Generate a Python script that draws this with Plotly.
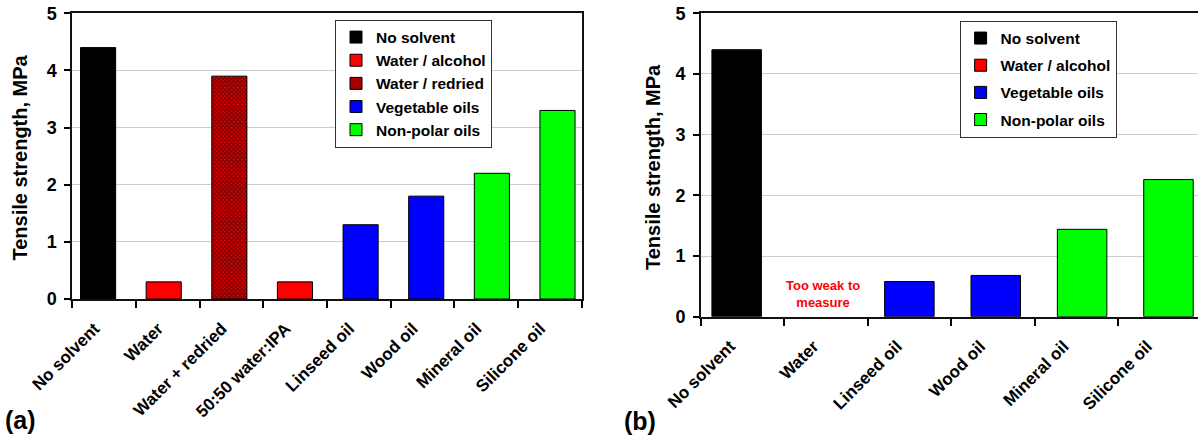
import plotly.graph_objects as go

# ---- data -------------------------------------------------------------
cats_a = ["No solvent", "Water", "Water + redried", "50:50 water:IPA",
          "Linseed oil", "Wood oil", "Mineral oil", "Silicone oil"]
vals_a = [4.4, 0.3, 3.9, 0.3, 1.3, 1.8, 2.2, 3.3]
group_a = ["No solvent", "Water / alcohol", "Water / redried", "Water / alcohol",
           "Vegetable oils", "Vegetable oils", "Non-polar oils", "Non-polar oils"]

cats_b = ["No solvent", "Water", "Linseed oil", "Wood oil", "Mineral oil", "Silicone oil"]
vals_b = [4.4, None, 0.58, 0.68, 1.44, 2.26]
group_b = ["No solvent", "Water / alcohol", "Vegetable oils", "Vegetable oils",
           "Non-polar oils", "Non-polar oils"]

legend_a = ["No solvent", "Water / alcohol", "Water / redried", "Vegetable oils", "Non-polar oils"]
legend_b = ["No solvent", "Water / alcohol", "Vegetable oils", "Non-polar oils"]

y_ticks = [0, 1, 2, 3, 4, 5]

# ---- styling ----------------------------------------------------------
W, H = 1198, 439
FONT = "Liberation Sans, Arial, sans-serif"
group_style = {
    "No solvent": dict(color="#000000"),
    "Water / alcohol": dict(color="#ff0000"),
    "Water / redried": dict(color="#ff0000",
                            pattern=dict(shape="x", fgcolor="#000000", bgcolor="#ff0000",
                                         size=3, solidity=0.7)),
    "Vegetable oils": dict(color="#0000ff"),
    "Non-polar oils": dict(color="#00ff00"),
}
LABEL_SHIFT = -0.15  # rotated labels sit slightly left of the category centre


def fx(p):
    return p / W


def fy(p):
    return 1 - p / H


fig = go.Figure()


def add_panel(cats, vals, groups, order, xaxis, yaxis, legend, width):
    for g in order:
        idx = [i for i, gg in enumerate(groups) if gg == g]
        fig.add_trace(go.Bar(
            x=idx, y=[vals[i] for i in idx], name=g,
            xaxis=xaxis, yaxis=yaxis, legend=legend, legendgroup=legend + g,
            width=width,
            marker=dict(**group_style[g], line=dict(color="#000000", width=1)),
            hoverinfo="skip",
        ))


add_panel(cats_a, vals_a, group_a, legend_a, "x", "y", "legend", 0.535)
add_panel(cats_b, vals_b, group_b, legend_b, "x3", "y2", "legend2", 0.573)

tickfont = dict(family=FONT, size=18, color="#000000", weight="bold")
labfont = dict(family=FONT, size=17, color="#000000", weight="bold")
legfont = dict(family=FONT, size=15.5, color="#000000", weight="bold")

yaxis_common = dict(range=[0, 5], tickvals=y_ticks, ticks="outside", ticklen=6,
                    tickwidth=1.5, tickcolor="#000000", tickfont=tickfont,
                    showgrid=True, gridcolor="#cccccc", gridwidth=1, zeroline=False,
                    showline=True, linecolor="#111111", linewidth=2,
                    ticklabelstandoff=4, automargin=False, fixedrange=True)


def label_axis(cats, rng, domain, overlay, anchor):
    n = len(cats)
    return dict(
        domain=domain, range=rng, overlaying=overlay, anchor=anchor,
        tickmode="array", tickvals=[i + LABEL_SHIFT for i in range(n)], ticktext=cats,
        ticks="", tickangle=-45, tickfont=labfont, ticklabelstandoff=11,
        minor=dict(tickmode="array", tickvals=[i - 0.5 for i in range(n + 1)],
                   ticks="outside", ticklen=7, tickwidth=1.5, tickcolor="#000000",
                   showgrid=False),
        showgrid=False, zeroline=False,
        showline=True, linecolor="#111111", linewidth=2, mirror=True,
        automargin=False, fixedrange=True,
    )


dom_a = [fx(72.3), fx(581.7)]
dom_b = [fx(701), 1.0]

fig.update_layout(
    width=W, height=H,
    margin=dict(l=0, r=0, t=0, b=0, autoexpand=False),
    paper_bgcolor="#ffffff", plot_bgcolor="#ffffff",
    barmode="overlay",
    font=dict(family=FONT, color="#000000"),
    xaxis=dict(domain=dom_a, range=[-0.393, 7.369], anchor="y", visible=False,
               automargin=False, fixedrange=True),
    xaxis2=label_axis(cats_a, [-0.5, 7.5], dom_a, "x", "y"),
    xaxis3=dict(domain=dom_b, range=[-0.413, 5.342], anchor="y2", visible=False,
                automargin=False, fixedrange=True),
    xaxis4=label_axis(cats_b, [-0.5, 5.459], dom_b, "x3", "y2"),
    yaxis=dict(domain=[fy(299), fy(13.3)], anchor="x", mirror=True, **yaxis_common),
    yaxis2=dict(domain=[fy(316.7), fy(13.3)], anchor="x3", mirror=False, **yaxis_common),
    legend=dict(x=fx(335), y=fy(19.5), xanchor="left", yanchor="top",
                bgcolor="#ffffff", bordercolor="#333333", borderwidth=1,
                font=legfont, tracegroupgap=0, itemclick=False, itemdoubleclick=False),
    legend2=dict(x=fx(959.6), y=fy(20.5), xanchor="left", yanchor="top",
                 bgcolor="#ffffff", bordercolor="#333333", borderwidth=1,
                 font=legfont, tracegroupgap=4, itemclick=False, itemdoubleclick=False),
    showlegend=True,
)

# empty traces keep the overlaid label axes active
fig.add_trace(go.Scatter(x=[], y=[], xaxis="x2", yaxis="y", showlegend=False))
fig.add_trace(go.Scatter(x=[], y=[], xaxis="x4", yaxis="y2", showlegend=False))

title_font = dict(family=FONT, size=20, color="#000000", weight="bold")
fig.add_annotation(text="Tensile strength, MPa", xref="paper", yref="paper",
                   x=fx(20), y=fy(157.5), textangle=-90, showarrow=False,
                   font=title_font, xanchor="center", yanchor="middle")
fig.add_annotation(text="Tensile strength, MPa", xref="paper", yref="paper",
                   x=fx(652.5), y=fy(167.5), textangle=-90, showarrow=False,
                   font=title_font, xanchor="center", yanchor="middle")

panel_font = dict(family=FONT, size=25, color="#000000", weight="bold")
fig.add_annotation(text="(a)", xref="paper", yref="paper", x=fx(3), y=fy(420),
                   xanchor="left", yanchor="middle", showarrow=False, font=panel_font)
fig.add_annotation(text="(b)", xref="paper", yref="paper", x=fx(622), y=fy(421),
                   xanchor="left", yanchor="middle", showarrow=False, font=panel_font)

# missing measurement for the Water sample in panel (b)
fig.add_annotation(text="Too weak to<br>measure", xref="x3", yref="y2",
                   x=cats_b.index("Water"), y=0.37, showarrow=False,
                   font=dict(family=FONT, size=13, color="#ff0000", weight="bold"),
                   xanchor="center", yanchor="middle")

fig.write_html("out.html", config={"displayModeBar": False})
